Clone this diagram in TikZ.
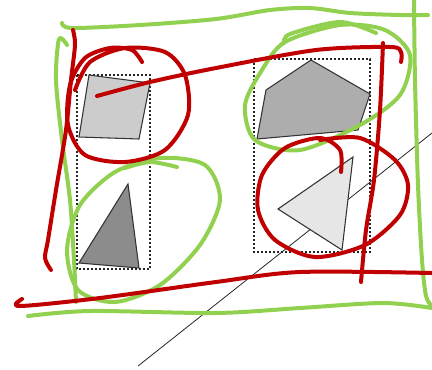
\documentclass[tikz,border=0pt]{standalone}
\usepackage{xcolor}
\usepackage{tikz}
\definecolor{sketchred}{HTML}{C00000}
\definecolor{sketchgreen}{HTML}{92D050}
\definecolor{polylight}{HTML}{CCCCCC}
\definecolor{polydark}{HTML}{8C8C8C}
\definecolor{polymid}{HTML}{ADADAD}
\definecolor{polypale}{HTML}{E6E6E6}
\begin{document}
\begin{tikzpicture}[x=0.75pt,y=-0.75pt,
  redpen/.style={sketchred,line width=3pt,line cap=round,line join=round},
  greenpen/.style={sketchgreen,line width=3pt,line cap=round,line join=round},
  bbox/.style={black!85,line width=1.1pt,dash pattern=on 1.5pt off 1.5pt},
  poly/.style={draw=black!80,line width=0.8pt}]
  \useasboundingbox (0,0) rectangle (432,369);
  % diagonal line
  \draw[black!85,line width=0.6pt] (138,366) -- (432,133);
  % bounding boxes
  \draw[bbox] (77,75) rectangle (150,269);
  \draw[bbox] (254,59) rectangle (370,252);
  % polygons
  \fill[polylight,poly] (89,75) -- (150,83) -- (139,139) -- (79,137) -- cycle;
  \fill[polydark,poly] (128,184) -- (139,268) -- (79,263) -- cycle;
  \fill[polymid,poly] (311,60) -- (370,94) -- (358,130) -- (257,139) -- (266,90) -- cycle;
  \fill[polypale,poly] (353,157) -- (342,250) -- (278,209) -- cycle;
  % green strokes
  \draw[greenpen] plot[smooth] coordinates {(62,23) (72,28) (140,25) (216,19) (270,10) (310,8) (350,13) (400,15) (428,15)};
  \draw[greenpen] plot[smooth] coordinates {(67,45) (59,39) (56,80) (62,140) (70,200) (74,260) (76,302)};
  \draw[greenpen] plot[smooth] coordinates {(414,1) (415,80) (418,185) (422,260) (426,296) (432,306)};
  \draw[greenpen] plot[smooth] coordinates {(28,316) (90,311) (216,313) (300,308) (383,303) (432,308)};
  \draw[greenpen] plot[smooth cycle] coordinates {(285,42) (340,25) (385,30) (410,55) (400,95) (360,125) (300,150) (255,140) (245,105) (262,70)};
  \draw[greenpen] plot[smooth] coordinates {(376,33) (340,22) (290,34) (284,43)};
  \draw[greenpen] plot[smooth cycle] coordinates {(160,158) (205,165) (220,200) (200,245) (160,285) (115,302) (78,290) (67,250) (80,205) (115,172)};
  \draw[greenpen] plot[smooth] coordinates {(177,167) (150,162) (125,168)};
  % red strokes
  \draw[redpen] plot[smooth] coordinates {(73,30) (75,45) (71,80) (66,130) (56,190) (48,240) (45,258) (51,270)};
  \draw[redpen] plot[smooth] coordinates {(142,62) (132,50) (110,48) (85,58) (70,85) (68,125) (85,155) (125,162) (165,150) (188,115) (185,75) (165,52) (125,48) (90,62) (75,90)};
  \draw[redpen] plot[smooth] coordinates {(97,96) (150,82) (216,68) (316,50) (390,47) (401,52) (401,62)};
  \draw[redpen] plot[smooth] coordinates {(383,43) (380,110) (374,180) (366,230) (361,282)};
  \draw[redpen] plot[smooth] coordinates {(341,172) (340,150) (320,138) (285,148) (262,175) (258,210) (275,240) (315,257) (365,245) (400,215) (408,185) (395,160) (360,138) (320,140)};
  \draw[redpen] plot[smooth] coordinates {(22,299) (20,306) (100,298) (216,282) (300,272) (432,273)};
\end{tikzpicture}
\end{document}
